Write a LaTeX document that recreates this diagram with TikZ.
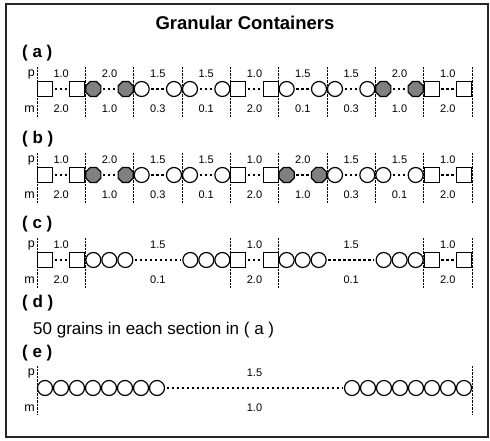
\documentclass[tikz,border=0pt]{standalone}
\usepackage{fontspec}
\setmainfont{Liberation Sans}
\usetikzlibrary{shapes.geometric}

% one section of a container: #1 name, #2 left x, #3 right x, #4 row y,
% #5 grain style, #6 grains on each side, #7 p value, #8 m value
\newcommand\grainsec[8]{%
  \foreach \k in {1,...,#6} {
    \node[#5] (#1L\k) at ({#2+8+16*(\k-1)}, #4) {};
    \node[#5] (#1R\k) at ({#3-8-16*(\k-1)}, #4) {};
  }
  \draw[link] (#1L#6) -- (#1R#6);
  \node[num] (#1p) at ({(#2+#3)/2}, #4-15) {#7};
  \node[num] (#1m) at ({(#2+#3)/2}, #4+20) {#8};
}
% p / m row captions
\newcommand\pmcap[2]{%
  \node[pm] (#1pc) at (35, #2-15) {p};
  \node[pm] (#1mc) at (35, #2+20) {m};
}

\begin{document}
\begin{tikzpicture}[x=1pt,y=-1pt,
  sq/.style={draw, rectangle, line width=1.2pt, minimum size=15pt, inner sep=0pt, fill=white},
  ci/.style={draw, circle, line width=1.2pt, minimum size=15pt, inner sep=0pt, fill=white},
  oc/.style={draw, regular polygon, regular polygon sides=8, line width=1.2pt,
             minimum size=16.3pt, inner sep=0pt, fill=gray},
  link/.style={line width=1.6pt, dash pattern=on 2.5pt off 2.5pt,
               shorten <=1.5pt, shorten >=1.5pt},
  sep/.style={line width=0.7pt, dash pattern=on 0.7pt off 0.7pt},
  lbl/.style={font=\fontsize{17}{19}\selectfont\bfseries, anchor=west, inner sep=0pt},
  num/.style={font=\fontsize{11}{12}\selectfont, inner sep=0pt},
  pm/.style={font=\fontsize{12.5}{14}\selectfont, anchor=east, inner sep=0pt}]

\useasboundingbox (0,0) rectangle (490,440);
\draw[line width=1.3pt, black!85] (6,4) rectangle (488,437);

\node[font=\fontsize{18.5}{21}\selectfont\bfseries] (title) at (245,23) {Granular Containers};

% section boundaries for the nine-section rows
\def\bx#1{(37+48.333*#1)}

% ---- (a)
\node[lbl] (la) at (22,53) {( a )};
\pmcap{a}{89}
\foreach \i/\t/\p/\m in {0/sq/1.0/2.0, 1/oc/2.0/1.0, 2/ci/1.5/0.3, 3/ci/1.5/0.1,
                         4/sq/1.0/2.0, 5/ci/1.5/0.1, 6/ci/1.5/0.3, 7/oc/2.0/1.0, 8/sq/1.0/2.0}
  {\pgfmathsetmacro\xa{37+48.333*\i}\pgfmathsetmacro\xb{37+48.333*(\i+1)}
   \grainsec{a\i}{\xa}{\xb}{89}{\t}{1}{\p}{\m}}
\foreach \i in {0,...,9}
  \draw[sep] ({37+48.333*\i},67) -- ({37+48.333*\i},117);

% ---- (b)
\node[lbl] (lb) at (22,139) {( b )};
\pmcap{b}{175}
\foreach \i/\t/\p/\m in {0/sq/1.0/2.0, 1/oc/2.0/1.0, 2/ci/1.5/0.3, 3/ci/1.5/0.1,
                         4/sq/1.0/2.0, 5/oc/2.0/1.0, 6/ci/1.5/0.3, 7/ci/1.5/0.1, 8/sq/1.0/2.0}
  {\pgfmathsetmacro\xa{37+48.333*\i}\pgfmathsetmacro\xb{37+48.333*(\i+1)}
   \grainsec{b\i}{\xa}{\xb}{175}{\t}{1}{\p}{\m}}
\foreach \i in {0,...,9}
  \draw[sep] ({37+48.333*\i},153) -- ({37+48.333*\i},203);

% ---- (c)
\node[lbl] (lc) at (22,224) {( c )};
\pmcap{c}{260}
\grainsec{c0}{37}{85.333}{260}{sq}{1}{1.0}{2.0}
\grainsec{c1}{85.333}{230.333}{260}{ci}{3}{1.5}{0.1}
\grainsec{c2}{230.333}{278.667}{260}{sq}{1}{1.0}{2.0}
\grainsec{c3}{278.667}{423.667}{260}{ci}{3}{1.5}{0.1}
\grainsec{c4}{423.667}{472}{260}{sq}{1}{1.0}{2.0}
\foreach \x in {37,85.333,230.333,278.667,423.667,472}
  \draw[sep] (\x,238) -- (\x,288);

% ---- (d)
\node[lbl] (ld) at (22,303) {( d )};
\node[font=\fontsize{17}{19}\selectfont, anchor=west, inner sep=0pt] (dtext) at (33,330)
  {50 grains in each section in ( a )};

% ---- (e)
\node[lbl] (le) at (22,353) {( e )};
\pmcap{e}{388}
\grainsec{e0}{37}{472}{388}{ci}{8}{1.5}{1.0}
\foreach \x in {37,472}
  \draw[sep] (\x,366) -- (\x,414);

\end{tikzpicture}
\end{document}
